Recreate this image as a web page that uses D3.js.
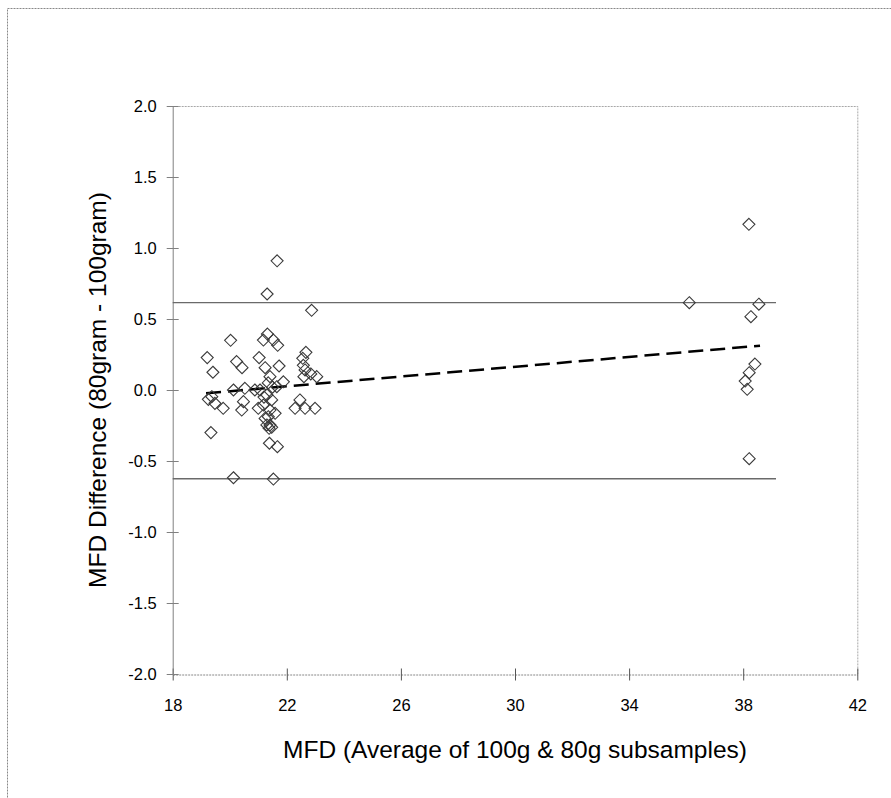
<!DOCTYPE html>
<html><head><meta charset="utf-8">
<script src="https://cdn.jsdelivr.net/npm/d3@7"></script>
<style>body{margin:0;background:#fff}svg{display:block}text{font-family:"Liberation Sans",Arial,sans-serif;fill:#000}</style>
</head><body>
<svg id="c" width="891" height="798"></svg>
<script>
// Data
const xAvg = [21.66,21.31,22.87,20.03,21.32,21.18,21.53,21.68,19.21,19.41,20.24,20.43,21.03,21.24,21.73,22.67,22.56,22.58,21.41,21.88,22.6,22.84,23.05,22.64,22.46,22.29,22.64,22.99,21.06,21.3,21.47,21.18,21.41,21.59,21.24,21.41,21.65,21.35,21.3,21.47,21.38,21.39,21.67,19.34,20.13,21.53,19.37,19.25,19.48,19.77,20.13,20.53,20.48,20.42,20.88,21.0,21.5,21.35,21.2,
  36.11,38.2,38.55,38.27,38.41,38.21,38.07,38.14,38.21];
const yDiff = [0.91,0.676,0.561,0.35,0.394,0.352,0.352,0.315,0.228,0.125,0.2,0.157,0.228,0.157,0.169,0.265,0.223,0.174,0.094,0.058,0.094,0.113,0.094,0.141,-0.07,-0.129,-0.129,-0.129,0.0,-0.035,-0.07,-0.106,-0.141,-0.164,-0.2,-0.246,0.023,-0.188,-0.246,-0.263,-0.27,-0.375,-0.399,-0.3,-0.618,-0.627,-0.047,-0.066,-0.094,-0.129,0.0,0.012,-0.082,-0.141,0.0,-0.129,0.02,0.05,-0.05,
  0.615,1.167,0.604,0.516,0.183,0.122,0.063,0.005,-0.484];
const limitX = [18, 39.15];
const upperLimit = 0.615;
const lowerLimit = -0.625;
const trendX = [19.17, 38.59];
const trendY = [-0.023, 0.312];
const xTicks = [18,22,26,30,34,38,42];
const yTicks = [-2.0,-1.5,-1.0,-0.5,0.0,0.5,1.0,1.5,2.0];
const xTitle = "MFD (Average of 100g & 80g subsamples)";
const yTitle = "MFD Difference (80gram - 100gram)";

const svg = d3.select("#c");
const L = 172.7, R = 857.3, T = 106, B = 674;
const x = d3.scaleLinear().domain([18,42]).range([L,R]);
const y = d3.scaleLinear().domain([-2,2]).range([B,T]);
const fmtY = d => d3.format(".1f")(d).replace("\u2212","-");

// outer frame
svg.append("rect").attr("x",7.5).attr("y",8.5).attr("width",920).attr("height",820)
  .attr("fill","none").attr("stroke","#888").attr("stroke-width",1).attr("stroke-dasharray","2,1");

// plot border (top, right) dotted
svg.append("path").attr("d",`M${L},${T+0.5}H${R+0.5}V${B}`).attr("fill","none")
  .attr("stroke","#a8a8a8").attr("stroke-width",1).attr("stroke-dasharray","2,1");

// x axis
const xa = svg.append("g").attr("transform",`translate(0,${B+0.5})`)
  .call(d3.axisBottom(x).tickValues(xTicks).tickSizeInner(6).tickSizeOuter(0).tickPadding(19));
xa.select(".domain").attr("stroke","#888").attr("stroke-dasharray","2,1");
xa.selectAll(".tick line").attr("stroke","#555").attr("y1",-6);
xa.selectAll("text").attr("font-size",16.5).attr("font-family","Liberation Sans, Arial, sans-serif").attr("fill","#000");

// y axis
const ya = svg.append("g").attr("transform",`translate(${L},0)`)
  .call(d3.axisLeft(y).tickValues(yTicks).tickFormat(fmtY).tickSizeInner(6).tickSizeOuter(0).tickPadding(10));
ya.select(".domain").attr("stroke","#808080");
ya.selectAll(".tick line").attr("stroke","#808080").attr("x1",6);
ya.selectAll("text").attr("font-size",16.5).attr("font-family","Liberation Sans, Arial, sans-serif").attr("fill","#000");

// limit lines
[upperLimit, lowerLimit].forEach(v => {
  svg.append("line").attr("x1",x(limitX[0])).attr("x2",x(limitX[1])).attr("y1",y(v)).attr("y2",y(v))
    .attr("stroke","#6a6a6a").attr("stroke-width",1.3);
});

// trend line
svg.append("path").datum(trendX.map((d,i)=>[d,trendY[i]]))
  .attr("d", d3.line().x(d=>x(d[0])).y(d=>y(d[1])))
  .attr("fill","none").attr("stroke","#000").attr("stroke-width",2.5).attr("stroke-dasharray","15,7");

// diamonds
const s = 6;
svg.append("g").selectAll("path").data(xAvg.map((d,i)=>[d,yDiff[i]])).join("path")
  .attr("d", d => { const cx=x(d[0]), cy=y(d[1]); return `M${cx},${cy-s}L${cx+s},${cy}L${cx},${cy+s}L${cx-s},${cy}Z`; })
  .attr("fill","none").attr("stroke","#3a3a3a").attr("stroke-width",1.1);

// titles
svg.append("text").attr("x",(L+R)/2).attr("y",758).attr("text-anchor","middle")
  .attr("font-size",24.5).text(xTitle);
svg.append("text").attr("transform",`translate(106,${(T+B)/2}) rotate(-90)`).attr("text-anchor","middle")
  .attr("font-size",24.5).text(yTitle);
</script>
</body></html>
